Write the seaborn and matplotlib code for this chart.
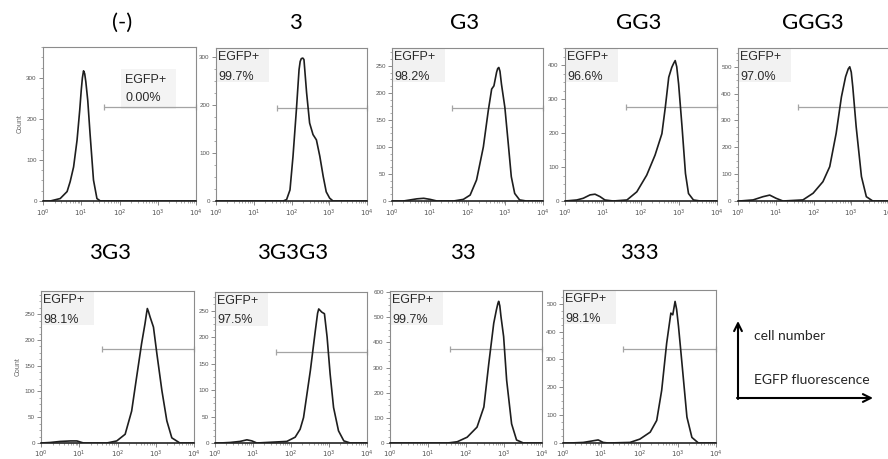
import numpy as np
import pandas as pd
import matplotlib
matplotlib.use("Agg")
import matplotlib.pyplot as plt
import seaborn as sns
from matplotlib.ticker import LogLocator, NullFormatter, AutoMinorLocator, MultipleLocator
from matplotlib.patches import Rectangle

# ---------------- data ----------------
titles = ["(-)", "3", "G3", "GG3", "GGG3", "3G3", "3G3G3", "33", "333"]
egfp_pct = ["0.00%", "99.7%", "98.2%", "96.6%", "97.0%", "98.1%", "97.5%", "99.7%", "98.1%"]
gate_lo = [40, 42, 39, 40, 38, 39, 40, 38, 37]
gate_hi = [10000] * 9
gate_count = [229, 194, 172, 276, 350, 182, 172, 372, 336]
y_max = [375, 318, 283, 450, 570, 295, 285, 604, 549]
y_step = [100, 100, 50, 100, 100, 50, 50, 100, 100]
x_ticks = [1, 10, 100, 1000, 10000]
x_ticklabels = [r"$10^{0}$", r"$10^{1}$", r"$10^{2}$", r"$10^{3}$", r"$10^{4}$"]

# log10 fluorescence / count
lx_neg = [0, 0.19, 0.45, 0.63, 0.71, 0.80, 0.89, 0.96, 1.0, 1.03, 1.06, 1.09, 1.12, 1.17, 1.23, 1.32, 1.41, 1.5, 4]
ct_neg = [0, 0, 6, 23, 47, 83, 148, 221, 270, 300, 317, 310, 290, 245, 164, 51, 6, 0, 0]

lx_3 = [0, 1.78, 1.87, 1.96, 2.04, 2.13, 2.2, 2.23, 2.26, 2.3, 2.33, 2.4, 2.48, 2.57, 2.66, 2.75, 2.84, 2.92, 3.01, 3.1, 4]
ct_3 = [0, 0, 3, 23, 93, 190, 273, 290, 296, 297, 294, 225, 162, 138, 127, 93, 51, 19, 6, 0, 0]

lx_g3 = [0, 0.3, 0.48, 0.66, 0.84, 1.01, 1.19, 1.63, 1.89, 2.07, 2.24, 2.42, 2.55, 2.64, 2.7, 2.77, 2.8, 2.83, 2.86, 2.9, 2.99, 3.08, 3.16, 3.25, 3.38, 3.56, 4]
ct_g3 = [0, 0, 2, 4, 5, 3, 0, 0, 3, 11, 39, 100, 167, 207, 213, 238, 245, 247, 240, 216, 173, 106, 45, 14, 2, 0, 0]

lx_gg3 = [0, 0.31, 0.48, 0.66, 0.79, 0.92, 1.05, 1.27, 1.63, 1.89, 2.15, 2.37, 2.55, 2.64, 2.73, 2.81, 2.86, 2.9, 2.94, 2.99, 3.08, 3.17, 3.25, 3.38, 3.56, 4]
ct_gg3 = [0, 3, 8, 18, 20, 13, 3, 0, 3, 27, 76, 135, 198, 276, 364, 393, 405, 413, 395, 344, 218, 81, 22, 3, 0, 0]

lx_ggg3 = [0, 0.04, 0.4, 0.66, 0.84, 1.01, 1.19, 1.72, 1.99, 2.25, 2.43, 2.6, 2.74, 2.85, 2.92, 2.96, 3.0, 3.04, 3.13, 3.27, 3.4, 3.57, 4]
ct_ggg3 = [0, 0, 4, 16, 22, 10, 0, 4, 29, 72, 128, 252, 388, 463, 492, 500, 480, 426, 277, 91, 16, 0, 0]

lx_3g3 = [0, 0.24, 0.5, 0.77, 0.94, 1.11, 1.72, 1.98, 2.2, 2.37, 2.5, 2.63, 2.72, 2.76, 2.78, 2.81, 2.85, 2.94, 3.03, 3.16, 3.29, 3.42, 3.63, 4]
ct_3g3 = [0, 1, 3, 4, 4, 0, 0, 4, 17, 62, 128, 193, 232, 252, 261, 255, 245, 225, 173, 102, 43, 10, 0, 0]

lx_3g3g3 = [0, 0.13, 0.4, 0.66, 0.84, 0.97, 1.1, 1.89, 2.11, 2.24, 2.33, 2.51, 2.64, 2.7, 2.73, 2.77, 2.81, 2.88, 2.95, 3.03, 3.12, 3.25, 3.39, 3.56, 4]
ct_3g3g3 = [0, 0, 1, 3, 6, 4, 0, 3, 11, 26, 48, 137, 212, 245, 253, 250, 247, 244, 200, 130, 67, 23, 4, 0, 0]

lx_33 = [0, 0.65, 1.52, 1.77, 2.03, 2.29, 2.47, 2.6, 2.73, 2.8, 2.84, 2.86, 2.89, 2.92, 2.99, 3.07, 3.2, 3.33, 3.51, 4]
ct_33 = [0, 0, 0, 5, 23, 63, 143, 316, 476, 529, 555, 563, 545, 503, 423, 249, 76, 12, 0, 0]

lx_333 = [0, 0.18, 0.53, 0.79, 0.92, 1.05, 1.18, 1.75, 2.01, 2.28, 2.45, 2.58, 2.71, 2.82, 2.87, 2.93, 2.97, 3.02, 3.11, 3.24, 3.37, 3.54, 4]
ct_333 = [0, 0, 2, 8, 11, 2, 0, 2, 14, 39, 81, 189, 358, 466, 460, 508, 480, 418, 286, 93, 20, 0, 0]

curves = [(lx_neg, ct_neg), (lx_3, ct_3), (lx_g3, ct_g3), (lx_gg3, ct_gg3), (lx_ggg3, ct_ggg3),
          (lx_3g3, ct_3g3), (lx_3g3g3, ct_3g3g3), (lx_33, ct_33), (lx_333, ct_333)]

# ---------------- layout (pixels: left, right, top, bottom) ----------------
W, H = 888, 459
boxes = [(43, 196, 47, 201), (216, 367, 48, 201), (392, 543, 48, 201), (565, 717, 48, 201),
         (738, 889, 48, 201), (41, 194, 291, 443), (215, 367, 292, 443), (390, 542, 291, 443),
         (563, 716, 290, 443)]
title_pos = [(122, 23), (295, 23), (465, 23), (639, 23), (813, 23),
             (110, 253), (293, 253), (463, 253), (639, 253)]

sns.set_style("ticks")
plt.rcParams["font.family"] = ["Liberation Sans", "DejaVu Sans"]

fig = plt.figure(figsize=(W / 100, H / 100), dpi=100)

for i, (l, r, t, b) in enumerate(boxes):
    ax = fig.add_axes([l / W, (H - b) / H, (r - l) / W, (b - t) / H])
    lx, ct = curves[i]
    df = pd.DataFrame({"fl": np.power(10.0, lx), "count": ct})
    sns.lineplot(data=df, x="fl", y="count", ax=ax, color="#1e1e1e", lw=1.2,
                 sort=False, estimator=None, zorder=3)
    for ln in ax.lines:
        ln.set_solid_joinstyle("round")
    ax.set_xscale("log")
    ax.set_xlim(1, 10000)
    ax.set_ylim(0, y_max[i])
    ax.set_xlabel("")
    ax.set_ylabel("Count" if i in (0, 5) else "", fontsize=5, color="#666666", labelpad=2)

    ax.set_xticks(x_ticks)
    ax.set_xticklabels(x_ticklabels)
    ax.xaxis.set_minor_locator(LogLocator(base=10, subs=np.arange(2, 10)))
    ax.xaxis.set_minor_formatter(NullFormatter())
    ax.yaxis.set_major_locator(MultipleLocator(y_step[i]))
    ax.yaxis.set_minor_locator(AutoMinorLocator(4))
    ax.tick_params(axis="both", which="major", length=3, width=0.6, color="#777777",
                   labelsize=4.5, labelcolor="#555555", pad=1.5)
    ax.tick_params(axis="both", which="minor", length=1.6, width=0.5, color="#888888")
    ax.tick_params(axis="x", labelsize=5, pad=1.0 if i >= 5 else 2)

    for side in ("left", "right", "top"):
        ax.spines[side].set_visible(True)
        ax.spines[side].set_color("#8c8c8c")
        ax.spines[side].set_linewidth(0.8)
    ax.spines["bottom"].set_color("#222222")
    ax.spines["bottom"].set_linewidth(1.2)

    # gate
    ax.plot([gate_lo[i], gate_hi[i]], [gate_count[i], gate_count[i]], color="#a4a4a4",
            lw=0.9, marker="|", ms=5, mew=0.9, clip_on=False, zorder=2)

    # EGFP+ label
    if i == 0:
        ax.add_patch(Rectangle((0.51, 0.6), 0.36, 0.26, transform=ax.transAxes,
                               fc="#f4f4f4", ec="none", zorder=1))
        tx, ty1, ty2 = 0.536, 0.786, 0.669
    else:
        ax.add_patch(Rectangle((0.004, 0.775), 0.345, 0.22, transform=ax.transAxes,
                               fc="#f2f2f2", ec="none", zorder=1))
        tx, ty1, ty2 = 0.015, 0.94, 0.812
    ax.text(tx, ty1, "EGFP+", transform=ax.transAxes, fontsize=9, color="#2a2a2a",
            va="center", ha="left", zorder=4)
    ax.text(tx, ty2, egfp_pct[i], transform=ax.transAxes, fontsize=9, color="#2a2a2a",
            va="center", ha="left", zorder=4)

# overlay for titles and the axis legend
ov = fig.add_axes([0, 0, 1, 1])
ov.set_xlim(0, W)
ov.set_ylim(H, 0)
ov.axis("off")
for name, (x, y) in zip(titles, title_pos):
    ov.text(x, y, name, fontsize=16, family=["Lato", "DejaVu Sans"], ha="center",
            va="center", color="black")

ov.annotate("", xy=(738, 321), xytext=(738, 399),
            arrowprops=dict(arrowstyle="->", lw=1.5, color="black", shrinkA=0, shrinkB=0,
                            mutation_scale=14))
ov.annotate("", xy=(873, 398), xytext=(737, 398),
            arrowprops=dict(arrowstyle="->", lw=1.5, color="black", shrinkA=0, shrinkB=0,
                            mutation_scale=14))
ov.text(754, 336, "cell number", fontsize=10, family=["Lato", "DejaVu Sans"],
        ha="left", va="center")
ov.text(754, 380, "EGFP fluorescence", fontsize=10, family=["Lato", "DejaVu Sans"],
        ha="left", va="center")

fig.savefig("out.png", dpi=100)
